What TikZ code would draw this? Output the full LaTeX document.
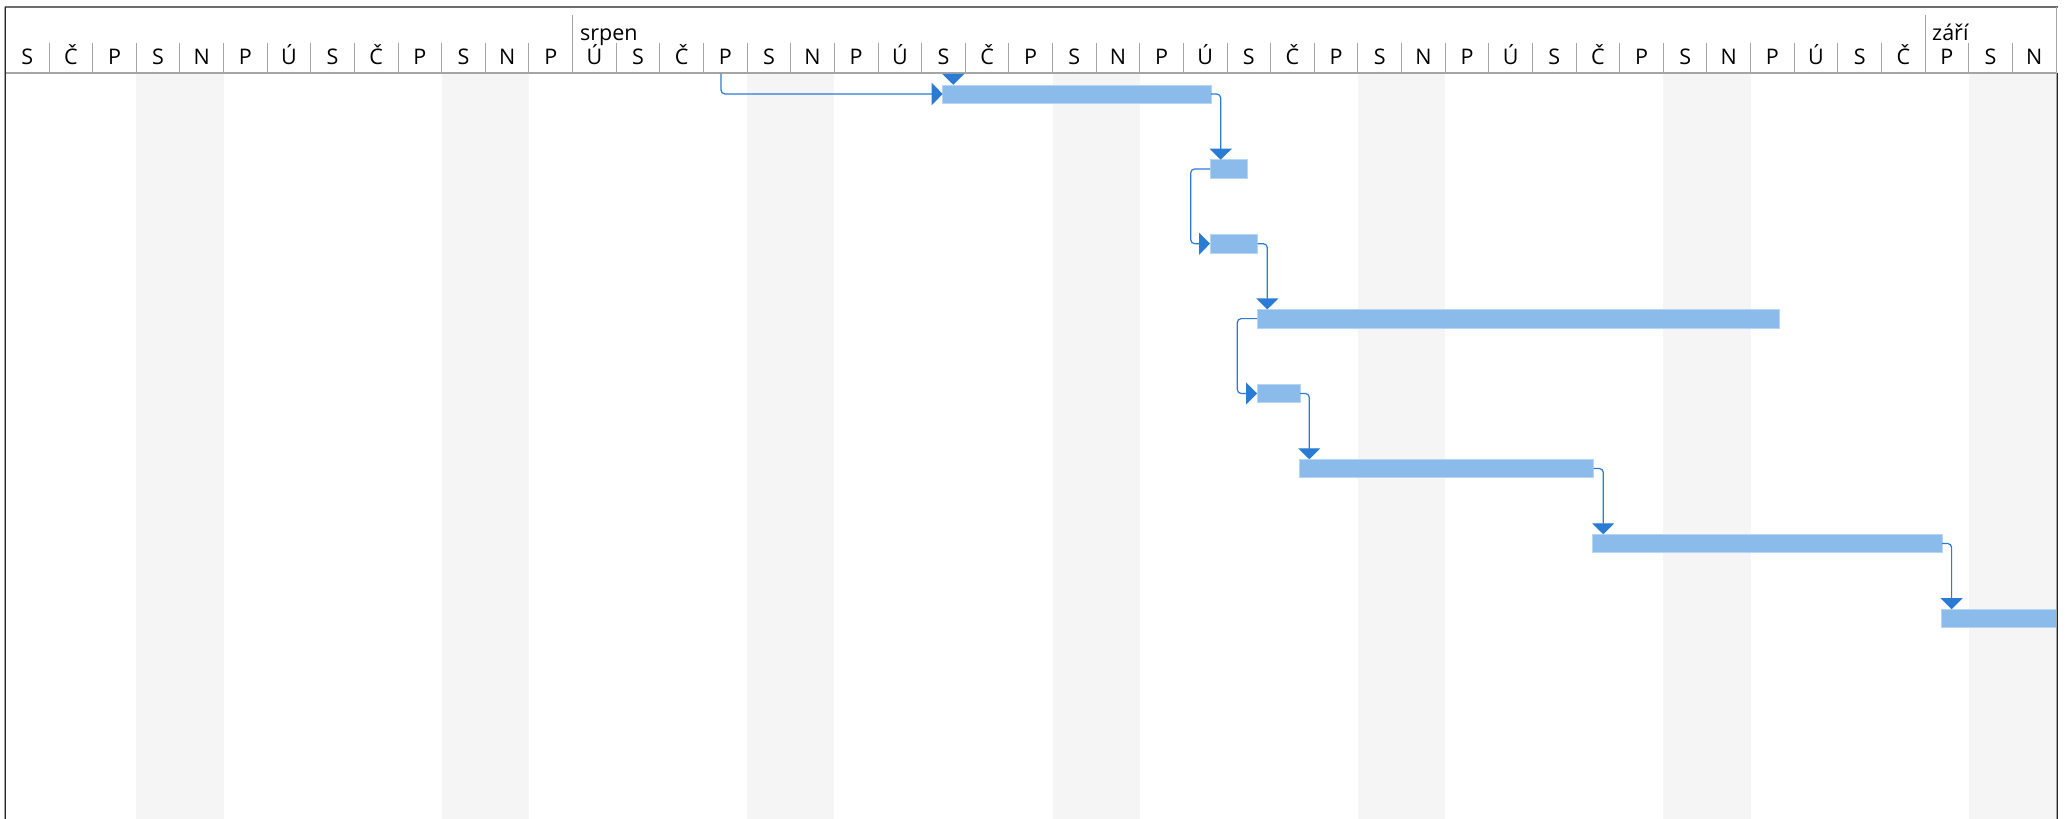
\documentclass[tikz,border=0pt]{standalone}
\usepackage{fontspec}
\setmainfont{Open Sans}
\usetikzlibrary{arrows.meta}
\definecolor{barfill}{RGB}{138,187,235}
\definecolor{baredge}{RGB}{182,212,243}
\definecolor{link}{RGB}{42,123,212}
\definecolor{wkend}{RGB}{245,245,245}
\definecolor{gridgray}{RGB}{165,165,165}
\definecolor{framegray}{RGB}{110,110,110}
\begin{document}
\begin{tikzpicture}[x=1pt,y=-1pt,
  bar/.style={fill=barfill, draw=baredge, line width=0.6pt, inner sep=0pt, outer sep=0pt, anchor=west, minimum height=18.4pt},
  conn/.style={draw=link, line width=1.2pt, rounded corners=4pt, -{Triangle[length=11pt,width=22pt]}},
  dayl/.style={font=\fontsize{21.5}{25}\selectfont, anchor=base, inner sep=0pt},
  monthl/.style={font=\fontsize{21.5}{25}\selectfont, anchor=base west, inner sep=0pt},
  sepline/.style={draw=gridgray, line width=1pt}
]
\useasboundingbox (0,0) rectangle (2069,819);
\fill[white] (0,0) rectangle (2069,819);
% weekend shading
\foreach \c in {3,10,17,24,31,38,45}
  \fill[wkend] ({5.4+\c*43.63},73.5) rectangle ({5.4+(\c+2)*43.63},819);
% day separators
\foreach \i in {1,...,46}
  \draw[sepline] ({5.4+\i*43.63},43) -- ({5.4+\i*43.63},72.7);
% month separators
\draw[sepline] ({5.4+13*43.63},15) -- ({5.4+13*43.63},72.7);
\draw[sepline] ({5.4+44*43.63},15) -- ({5.4+44*43.63},72.7);
% month labels
\node[monthl] (m1) at (580,40.5) {srpen};
\node[monthl] (m2) at (1932,40.5) {září};
% day labels
\foreach \d [count=\i from 0] in {S,Č,P,S,N,P,Ú,S,Č,P,S,N,P,Ú,S,Č,P,S,N,P,Ú,S,Č,P,S,N,P,Ú,S,Č,P,S,N,P,Ú,S,Č,P,S,N,P,Ú,S,Č,P,S,N}
  \node[dayl] (d\i) at ({5.4+(\i+0.5)*43.63},64.6) {\d};
% header bottom line
\draw[draw=gridgray, line width=1.3pt] (5,72.9) -- (2057,72.9);
% bars
\node[bar, minimum width=268.3pt] (b1) at (942.7,94.0) {};
\node[bar, minimum width=37pt]    (b2) at (1210,168.9) {};
\node[bar, minimum width=47.7pt]  (b3) at (1210,243.7) {};
\node[bar, minimum width=522pt]   (b4) at (1257,318.6) {};
\node[bar, minimum width=43pt]    (b5) at (1257,393.5) {};
\node[bar, minimum width=294.7pt] (b6) at (1299,468.5) {};
\node[bar, minimum width=349.3pt] (b7) at (1592.7,543.5) {};
\node[bar, minimum width=115pt]   (b8) at (1941,618.4) {};
% connectors
\coordinate (s0) at (721,73.5);
\coordinate (s1) at (953.3,73.5);
\draw[conn] (s0) |- (b1.west);
\draw[conn] (s1) -- (s1 |- b1.north);
\draw[conn] (b1.east) -| ([xshift=10.7pt]b2.north west);
\draw[conn] (b2.west) -- ++(-19.3,0) |- (b3.west);
\draw[conn] (b3.east) -| ([xshift=10.3pt]b4.north west);
\draw[conn] (b4.west) -- ++(-19.7,0) |- (b5.west);
\draw[conn] (b5.east) -| ([xshift=10.3pt]b6.north west);
\draw[conn] (b6.east) -| ([xshift=10.6pt]b7.north west);
\draw[conn] (b7.east) -| ([xshift=10.6pt]b8.north west);
% frame
\draw[draw=framegray, line width=1.6pt] (4.5,6.7) -- (2057.5,6.7);
\draw[draw=gridgray, line width=1pt] (4.6,6.7) -- (4.6,819);
\draw[draw=black!85, line width=1pt] (5.7,6.7) -- (5.7,819);
\draw[draw=gridgray, line width=1pt] (2056.2,6.7) -- (2056.2,819);
\draw[draw=black!85, line width=1pt] (2057.3,73) -- (2057.3,819);
\end{tikzpicture}
\end{document}
